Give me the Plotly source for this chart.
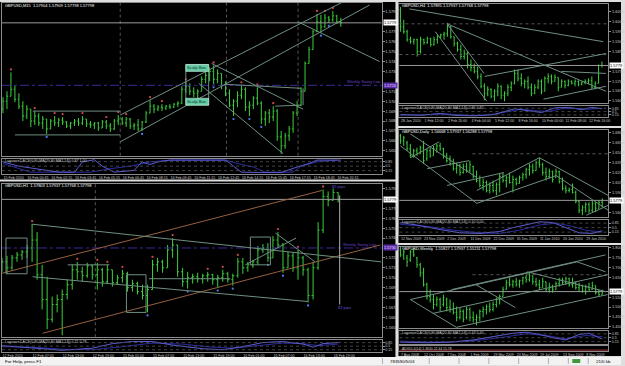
import plotly.graph_objects as go

W, H = 625, 366
FONT = "Liberation Sans"
GREEN = "#3ccf3c"
TL = "#6f8f80"
LBL = "#c8c8c8"
PURPLE = "#6a3fc0"

# ===================== DATA =====================
# Panel 1  GBPUSD,M15   values = pips above 1.5600
p1_open = [92,100,105,112,102,95,85,92,80,85, 78,82,72,80,78,81,79,75,78,80,
           78,82,77,76,78,73,79,75,72,80, 82,78,82,75,76,72,79,88,95,92,
           94,93,95,94,97,98,112,115,110,108, 110,122,126,130,122,128,116,108,96,100,
           106,112,94,96,103,98,82,88,84,90, 64,55,65,72,88,96,110,138,152,170,
           180,175,184,182,186,180]
p1_high = [104,110,129,116,108,100,96,92,90,88, 85,82,82,85,83,84,80,79,82,83,
           85,82,80,79,79,81,81,78,82,86, 84,84,83,78,82,80,90,101,97,96,
           97,96,97,98,100,115,119,118,114,112, 125,130,134,136,132,128,120,112,102,110,
           116,114,100,105,114,100,90,92,95,92, 70,68,75,90,100,114,140,155,172,188,
           187,188,186,191,187,184]
p1_low = [88,92,105,99,92,80,82,74,76,75, 72,67,72,75,74,76,73,72,75,75,
          76,74,73,72,70,73,72,69,71,76, 76,74,72,71,70,70,78,88,88,90,
          90,91,92,93,94,97,108,106,104,103, 110,118,120,117,118,112,105,94,85,94,
          102,90,85,92,96,77,75,78,80,60, 47,52,60,68,85,95,110,138,152,170,
          169,174,179,180,178,175]
p1_close = [100,105,112,102,95,85,92,80,85,78, 82,72,80,78,81,79,75,78,80,78,
            82,77,76,78,73,79,75,72,80,82, 78,82,75,76,72,79,88,95,92,94,
            93,95,94,97,98,112,115,110,108,110, 122,126,130,122,128,116,108,96,100,106,
            112,94,96,103,98,82,88,84,90,64, 55,65,72,88,96,110,138,152,170,180,
            175,184,182,186,180,179]
p1_frac_up = [2,8,13,15,20,26,29,31,37,40,46,53,60,64,68,79,81,83]
p1_frac_dn = [11,35,49,53,58,62,65,70,80,82]
p1_lag_ax = [0,4,14,18,20,23,25,28,33,35,37,39,42,56,58,60,65,70,74,77,79,85]
p1_lag_a = [0.83,0.5,0.03,0.03,0.83,1.0,0.5,0.03,0.17,0.83,0.63,0.83,0.97,0.97,0.5,0.03,0.0,0.0,0.43,0.7,0.97,0.97]
p1_lag_bx = [0,7,22,27,32,34,37,42,56,59,63,66,73,75,79,84]
p1_lag_b = [0.7,0.03,0.03,0.3,0.5,0.63,0.83,0.97,0.97,0.7,0.43,0.03,0.03,0.5,0.83,0.97]
p1_tick_idx = [0,6,12,18,24,30,36,42,48,54,60,66,72,78,84]
p1_tick_txt = ["15 Feb 2010","16 Feb 00:45","16 Feb 02:15","16 Feb 03:45","16 Feb 05:15",
               "16 Feb 06:45","16 Feb 08:15","16 Feb 09:45","16 Feb 11:15","16 Feb 12:45",
               "16 Feb 14:15","16 Feb 15:45","16 Feb 17:15","16 Feb 18:45","16 Feb 20:15"]
p1_trend = [(7.5,90,29.5,90),(3,66,29.5,66),(29.5,86,85.5,200),(29.5,59,92.25,197),
            (52.5,138,75.5,92),(49.25,118,70.5,47),(74.25,180,94.75,140),(56,117,75,113),
            (68.5,95,75,96),(75.5,113,75.5,96)]
p1_day_sep = [29.5,56.25,74.25]
p1_bid = 179
p1_wsl = 116

# Panel 2  GBPUSD,H1   values = pips above 1.5600
p2_open = [110,116,110,120,123,126,130,138,103,78, 58,73,78,83,93,108,106,102,112,103,
           108,96,108,95,100,104,90,94,86,82, 88,113,116,110,128,133,106,96,100,101,
           99,102,103,98,100,104,98,102,116,110, 113,116,128,130,120,138,133,110,122,110,
           120,108,82,110,148,182,178,186]
p2_high = [120,122,123,126,128,133,154,146,113,101, 81,83,88,98,113,116,111,115,113,115,
           110,113,108,103,108,106,98,96,93,93, 118,120,118,133,140,133,110,106,104,105,
           104,106,104,103,108,106,104,120,120,116, 118,132,134,135,142,146,135,126,126,128,
           122,110,116,156,189,187,190,186]
p2_low = [106,104,108,116,118,120,116,98,68,48, 55,65,42,78,88,98,96,100,98,88,
          91,94,91,93,95,86,86,83,78,65, 88,106,105,110,120,101,91,89,94,95,
          94,96,93,90,96,95,92,100,104,106, 110,113,125,116,120,130,105,110,106,98,
          102,75,78,108,145,172,178,176]
p2_close = [116,110,120,123,126,130,138,103,78,58, 73,78,83,93,108,106,102,112,103,108,
            96,108,95,100,104,90,94,86,82,88, 113,116,110,128,133,106,96,100,101,99,
            102,103,98,100,104,98,102,116,110,113, 116,128,130,120,138,133,110,122,110,120,
            108,82,110,148,182,178,186,179]
p2_frac_up = [6,15,19,21,24,30,34,41,44,47,55,59,64]
p2_frac_dn = [12,29,37,43,46,53,56,61]
p2_lag_ax = [0,6,12,18,22,26,30,34,40,44,48,52,56,60,62,64,67]
p2_lag_a = [0.55,0.35,0.1,0.3,0.75,0.95,0.95,0.6,0.25,0.15,0.45,0.85,0.95,0.7,0.4,0.75,0.85]
p2_lag_bx = [0,6,12,18,24,30,36,42,46,50,56,60,63,67]
p2_lag_b = [0.45,0.4,0.2,0.15,0.45,0.8,0.7,0.4,0.3,0.5,0.8,0.75,0.55,0.7]
p2_tick_idx = [0,6,12,18,24,30,36,42,48,54,60,66]
p2_tick_txt = ["12 Feb 2010","12 Feb 07:00","12 Feb 13:00","12 Feb 19:00","15 Feb 01:00","15 Feb 07:00",
               "15 Feb 13:00","15 Feb 19:00","16 Feb 01:00","16 Feb 07:00","16 Feb 13:00","16 Feb 19:00"]
p2_trend_orange = [(-0.4,104,63.8,188),(8.1,44,75.4,133)]
p2_trend = [(5.9,154,75.6,116),(6.1,101,61,76),(54.5,145,62.4,116),(48.5,113,58.6,140),
            (13.1,113,21.4,113),(29.3,99,45.5,99)]
p2_boxes = [(0.8,104,5,140),(24.8,65,28.7,103),(49.5,113,53.5,141)]
p2_measure = (67.3,73,183)
p2_day_sep = [18.6]
p2_bid = 179
p2_wsl = 130

# Panel 3  GBPUSD,H4   values = pips above 1.5500
p3_open = [559,474,449,409,399,409,349,409,394,414, 384,409,424,434,439,474,424,389,359,324,
           339,284,269,249,224,174,139,159,124,149, 174,129,139,169,189,239,214,189,199,169,
           139,169,199,149,214,224,199,219,169,199, 179,199,189,199,184,194,199,204,169,189,279]
p3_high = [574,509,459,424,414,414,424,414,424,419, 424,434,439,449,494,479,424,399,384,359,
           349,309,289,274,239,189,174,164,159,189, 179,149,184,199,259,259,239,209,224,189,
           184,209,209,224,239,234,234,219,209,204, 209,204,209,204,199,209,214,224,199,284,299]
p3_low = [449,439,399,389,384,324,339,384,389,374, 379,389,414,409,424,414,374,349,309,309,
          264,249,239,209,164,104,124,114,99,124, 109,99,124,149,184,199,174,164,159,124,
          134,159,134,149,189,184,199,149,169,164, 174,184,174,174,179,184,184,159,159,189,269]
p3_close = [474,449,409,399,409,349,409,394,414,384, 409,424,434,439,474,424,389,359,324,339,
            284,269,249,224,174,139,159,124,149,174, 129,139,169,189,239,214,189,199,169,139,
            169,199,149,214,224,199,219,169,199,179, 199,189,199,184,194,199,204,169,189,279,279]
p3_lag_ax = [0,6,12,16,22,28,34,38,42,46,50,54,57,60]
p3_lag_a = [0.2,0.1,0.3,0.1,0.05,0.2,0.8,0.6,0.4,0.9,0.95,0.7,0.95,0.8]
p3_lag_bx = [0,8,14,20,26,32,36,40,44,48,52,56,60]
p3_lag_b = [0.1,0.2,0.25,0.1,0.1,0.5,0.75,0.6,0.5,0.8,0.85,0.75,0.85]
p3_tick_idx = [0,7,14,21,28,35,42,49,56]
p3_tick_txt = ["28 Jan 2010","1 Feb 12:00","2 Feb 20:00","4 Feb 04:00","5 Feb 12:00",
               "8 Feb 16:00","10 Feb 00:00","11 Feb 08:00","12 Feb 16:00"]
p3_trend = [(2.7,564,60.4,399),(13.9,489,61.2,149),(10.4,449,25.7,99),(13.9,489,24.9,239),
            (25.1,224,61.2,339),(42.6,109,61.2,174),(47.9,249,61.2,239)]
p3_dotted = [489,334]
p3_bid = 279

# Panel 4  GBPUSD,Daily   values = pips above 1.5000
p4_open = [1754,1679,1649,1559,1454,1529,1484,1574,1409,1529, 1454,1559,1604,1559,1454,1409,1334,1259,1304,1199,
           1289,1229,1289,1139,1079,1004,1049,929,1004,929, 1019,1139,1079,1124,1049,1094,1034,1124,1169,1244,
           1289,1229,1349,1319,1199,1139,1214,1124,1214,1064, 959,929,944,899,764,629,674,719,629,734,659,749]
p4_high = [1784,1754,1679,1634,1559,1574,1604,1679,1559,1574, 1604,1634,1649,1574,1499,1454,1409,1349,1334,1334,
           1349,1379,1304,1229,1154,1109,1079,1049,1079,1049, 1184,1199,1154,1199,1154,1124,1154,1199,1274,1334,
           1334,1379,1424,1349,1274,1259,1229,1259,1229,1124, 1004,974,1034,929,779,704,749,749,779,749,779,809]
p4_low = [1634,1604,1529,1424,1424,1454,1484,1334,1379,1424, 1454,1499,1529,1409,1349,1304,1229,1184,1154,1184,
          1199,1199,1109,1049,974,929,899,884,899,854, 899,1049,974,1034,899,1004,1034,1079,1109,1154,
          1184,1229,1274,1154,1079,1109,1049,1124,1034,929, 884,899,884,734,584,554,599,584,599,599,659,674]
p4_close = [1679,1724,1559,1454,1529,1484,1574,1379,1529,1454, 1559,1604,1559,1454,1379,1334,1259,1304,1199,1289,
            1229,1319,1139,1079,1004,1049,929,1004,929,1019, 1139,1079,1124,1049,1094,1034,1124,1169,1244,1289,
            1229,1349,1319,1199,1139,1214,1094,1214,1064,959, 929,944,899,764,629,674,719,629,734,659,749,779]
p4_lag_ax = [0,5,12,18,24,30,34,38,42,46,50,54,58,61]
p4_lag_a = [0.9,0.7,0.35,0.1,0.05,0.2,0.5,0.75,0.95,0.9,0.5,0.1,0.05,0.25]
p4_lag_bx = [0,8,16,24,30,36,42,47,52,56,61]
p4_lag_b = [0.75,0.6,0.3,0.1,0.05,0.3,0.7,0.85,0.6,0.3,0.15]
p4_tick_idx = [0,7,14,21,28,35,42,49,56]
p4_tick_txt = ["12 Nov 2009","23 Nov 2009","2 Dec 2009","11 Dec 2009","22 Dec 2009",
               "31 Dec 2009","11 Jan 2010","20 Jan 2010","29 Jan 2010"]
p4_trend = [(3,1784,23.1,1124),(0,1604,23.1,734),(3,1424,11.7,1664),(8.1,1259,20.7,1379),
            (14.1,1004,31.2,1199),(23.1,929,42,1424),(23.1,734,47.1,1154),(42,1424,62.8,854),
            (47.1,1154,62.8,629),(56.2,554,62.8,704)]
p4_dotted = [1484]
p4_bid = 779

# Panel 5  GBPUSD,Weekly   values = pips above 1.0000
p5_open = [7879,7629,7479,7379,7779,7479,7129,6729,6129,5529, 5379,5129,5379,5129,5379,4979,4879,4729,4479,4779,
           4479,4879,4479,4379,4479,4779,4879,5029,4879,5129, 5379,5529,5879,6229,6129,6279,6129,6329,6479,6379,
           6579,6279,6129,5979,6279,5879,6029,5879,6179,6379, 6229,6429,6129,6229,5979,6079,5829,6029,5879,6079,5729,5629]
p5_high = [8029,7879,7629,7879,7979,7529,7229,6979,6229,5879, 5629,5529,5479,5629,5479,5379,5229,5029,4979,4879,
           5029,4979,4779,4629,4879,5029,5129,5229,5279,5479, 5629,6029,6379,6479,6379,6479,6379,6529,6629,6729,
           6579,6479,6379,6479,6279,6229,6129,6279,6479,6479, 6529,6479,6479,6279,6229,6129,6129,6229,6279,6079,5879,5879]
p5_low = [7529,7379,7029,7279,7529,6979,6529,6029,5379,5229, 4879,5029,4779,5029,4779,4729,4629,4279,4379,4229,
          4379,4279,4229,4079,4279,4479,4629,4729,4779,4979, 5129,5529,5879,6029,5979,6029,5979,6129,6229,6279,
          6129,6029,5879,5979,5779,5729,5729,5879,6029,6129, 6129,6029,5979,5879,5779,5729,5629,5779,5879,5629,5529,5629]
p5_close = [7629,7779,7279,7779,7629,7129,6729,6129,5529,5379, 5129,5379,4979,5479,4979,4879,4729,4479,4779,4379,
            4879,4479,4379,4479,4779,4879,5029,4879,5129,5379, 5529,5879,6229,6129,6279,6129,6329,6479,6379,6579,
            6279,6129,5979,6279,5879,6029,5879,6179,6379,6229, 6429,6129,6229,5979,6079,5829,6029,5879,6079,5729,5629,5779]
p5_lag_ax = [0,8,15,22,28,34,38,42,46,50,54,57,60,61]
p5_lag_a = [0.1,0.05,0.1,0.3,0.6,0.9,1.0,0.8,0.5,0.3,0.8,0.9,0.5,0.4]
p5_lag_bx = [0,10,20,30,38,44,50,56,61]
p5_lag_b = [0.2,0.1,0.15,0.5,0.85,0.7,0.4,0.7,0.6]
p5_tick_idx = [0,7,14,21,28,35,42,49,56]
p5_tick_txt = ["7 Aug 2008","12 Oct 2008","7 Dec 2008","1 Feb 2009","29 Mar 2009",
               "24 May 2009","19 Jul 2009","13 Sep 2009","8 Nov 2009"]
p5_trend = [(3,5379,53.4,7279),(16.9,3979,62.6,5629),(9.8,4679,62.6,6629),(3,5379,16.9,3979),
            (22.8,6129,34.7,4979),(38.3,6779,62,5779),(53.4,7279,62,6779),(15.4,5879,62,7629)]
p5_dotted = [6629]
p5_bid = 5779

titles = ["GBPUSD,M15  1.57904 1.57909 1.57798 1.57798",
          "GBPUSD,H1  1.57803 1.57937 1.57768 1.57798",
          "GBPUSD,H4  1.57895 1.57937 1.57768 1.57798",
          "GBPUSD,Daily  1.56668 1.57937 1.56288 1.57798",
          "GBPUSD,Weekly  1.55827 1.57937 1.55211 1.57798"]
ind_titles = ["Laguerre2-ACS(0.80,MA(20,80,MA2,14)) 0.87 1.00",
              "Laguerre2-ACS(0.80,MA(20,80,MA2,14)) 0.71 0.78",
              "Laguerre2-ACS(0.80,MA(20,80,MA2,14)) 0.85 0.82",
              "Laguerre2-ACS(0.80,MA(20,80,MA2,14)) 0.10 0.00",
              "Laguerre2-ACS(0.80,MA(20,80,MA2,14)) 0.43 0.40"]

# ===================== FIGURE =====================
fig = go.Figure()
shapes, anns, lay = [], [], {}


def sfx(n):
    return "" if n == 1 else str(n)


def px(x):
    return x / W


def py(y):
    return 1 - y / H


def prices(vals, base):
    return [round(base + v / 10000.0, 5) for v in vals]


AX = dict(showgrid=False, zeroline=False, showline=True, mirror=True,
          linecolor="#8c8c8c", linewidth=1, fixedrange=True)


def xrange_for(L, R, x0, sp):
    a = -(x0 - L) / sp
    return [a, a + (R - L) / sp]


def price_ticks(lo, hi, t0, dt, excl):
    # price-axis labels; those hidden under a highlighted level box are skipped
    vals, v = [], t0
    while v <= hi + 1e-9:
        if v >= lo and all(abs(v - e) > 0.55 * dt for e in excl):
            vals.append(round(v, 5))
        v += dt
    return dict(tickmode="array", tickvals=vals, ticktext=["%.4f" % t for t in vals])


def set_axes(n, box, xr, yr, ytick=None, xticks=None):
    s = sfx(n)
    L, R, T, B = box
    xa = dict(AX, domain=[px(L), px(R)], range=xr, anchor="y" + s,
              rangeslider=dict(visible=False), showticklabels=False, ticks="")
    if xticks is not None:
        xa.update(showticklabels=True, tickmode="array", tickvals=xticks[0], ticktext=xticks[1],
                  tickfont=dict(size=3.6, color=LBL, family=FONT), tickangle=0,
                  ticklabelposition="outside right")
    ya = dict(AX, domain=[py(B), py(T)], range=yr, anchor="x" + s, side="right",
              ticks="outside", ticklen=2, tickcolor="#8c8c8c",
              tickfont=dict(size=4, color=LBL, family=FONT))
    if ytick is None:
        ya.update(showticklabels=False, ticks="")
    else:
        ya.update(ytick)
    lay["xaxis" + s] = xa
    lay["yaxis" + s] = ya


def add_bars(n, o, h, l, c, base):
    s = sfx(n)
    fig.add_trace(go.Ohlc(x=list(range(len(o))), open=prices(o, base), high=prices(h, base),
                          low=prices(l, base), close=prices(c, base), xaxis="x" + s, yaxis="y" + s,
                          increasing=dict(line=dict(color=GREEN, width=1)),
                          decreasing=dict(line=dict(color=GREEN, width=1)),
                          tickwidth=0.3, hoverinfo="skip", showlegend=False))


def add_lag(n, ax_, a, bx_, b):
    s = sfx(n)
    fig.add_trace(go.Scatter(x=bx_, y=b, mode="lines", line=dict(color="#2b2ba0", width=1),
                             xaxis="x" + s, yaxis="y" + s, hoverinfo="skip", showlegend=False))
    fig.add_trace(go.Scatter(x=ax_, y=a, mode="lines", line=dict(color="#5c5cd8", width=1),
                             xaxis="x" + s, yaxis="y" + s, hoverinfo="skip", showlegend=False))
    for lv in (0.15, 0.5, 0.85):
        shapes.append(dict(type="line", xref="x" + s + " domain", yref="y" + s, x0=0, x1=1,
                           y0=lv, y1=lv, line=dict(color="#444444", width=1, dash="dot")))


def add_frac(n, idx, h, base, off, color, sign):
    s = sfx(n)
    fig.add_trace(go.Scatter(x=idx, y=[base + (h[i] + sign * off) / 10000.0 for i in idx],
                             mode="markers", marker=dict(size=2.3, color=color),
                             xaxis="x" + s, yaxis="y" + s, hoverinfo="skip", showlegend=False))


def seg(n, base, t, color=TL, width=1, dash="solid"):
    s = sfx(n)
    shapes.append(dict(type="line", xref="x" + s, yref="y" + s, x0=t[0], y0=base + t[1] / 1e4,
                       x1=t[2], y1=base + t[3] / 1e4, line=dict(color=color, width=width, dash=dash)))


def hline(n, base, v, color, dash="solid", x0=0, width=1):
    s = sfx(n)
    shapes.append(dict(type="line", xref="x" + s + " domain", yref="y" + s, x0=x0, x1=1,
                       y0=base + v / 1e4, y1=base + v / 1e4, line=dict(color=color, width=width, dash=dash)))


def vline(n, x, color="#555555", dash="dot"):
    s = sfx(n)
    shapes.append(dict(type="line", xref="x" + s, yref="y" + s + " domain", x0=x, x1=x, y0=0, y1=1,
                       line=dict(color=color, width=1, dash=dash)))


def text(x, y, t, size=4, color="#ffffff", xanchor="left", bg=None, yanchor="middle"):
    d = dict(x=px(x), y=py(y), xref="paper", yref="paper", text=t, showarrow=False,
             xanchor=xanchor, yanchor=yanchor, font=dict(size=size, color=color, family=FONT))
    if bg:
        d.update(bgcolor=bg, borderpad=0)
    anns.append(d)


def axis_label(n, xpix, price, t, bg, fg):
    anns.append(dict(x=px(xpix), xref="paper", y=price, yref="y" + sfx(n), text=t, showarrow=False,
                     xanchor="left", yanchor="middle", bgcolor=bg, borderpad=0,
                     font=dict(size=4, color=fg, family=FONT)))


def rect_px(x0, y0, x1, y1, fill, layer="below", line=None):
    shapes.append(dict(type="rect", xref="paper", yref="paper", x0=px(x0), x1=px(x1),
                       y0=py(y1), y1=py(y0), fillcolor=fill, layer=layer,
                       line=dict(width=0) if line is None else line))


# window frames
for fr in [(0, 0, 398, 179), (0, 181, 398, 358), (401, 0, 625, 125), (401, 127, 625, 243), (401, 245, 625, 357)]:
    rect_px(*fr, fill="#000000")
rect_px(0, 358, 625, 366, "#f2f2f2")

IND_Y = dict(tickmode="array", tickvals=[0.15, 0.5, 0.85], ticktext=["0.15", "0.5", "0.85"],
             tickfont=dict(size=3.6, color=LBL, family=FONT))

# ---------- Panel 1 (M15) ----------
b1 = 1.56
set_axes(1, (2, 384, 1, 155), xrange_for(2, 384, 3, 4), [1.5645, 1.5799],
         price_ticks(1.5645, 1.5799, 1.5600, 0.001, [b1 + p1_bid / 1e4, b1 + p1_wsl / 1e4]))
set_axes(2, (2, 384, 158, 173), xrange_for(2, 384, 3, 4), [-0.08, 1.08], IND_Y,
         (p1_tick_idx, p1_tick_txt))
for x in p1_day_sep:
    vline(1, x)
hline(1, b1, p1_bid, "#9a9a9a")
hline(1, b1, p1_wsl, "#3b2a9a", dash="dashdot")
for t in p1_trend:
    seg(1, b1, t)
add_bars(1, p1_open, p1_high, p1_low, p1_close, b1)
add_frac(1, p1_frac_up, p1_high, b1, 3, "#c84848", 1)
add_frac(1, p1_frac_dn, p1_low, b1, 3, "#4a78e8", -1)
add_lag(2, p1_lag_ax, p1_lag_a, p1_lag_bx, p1_lag_b)
# scalp box markers
shapes.append(dict(type="rect", xref="x", yref="y", x0=46, x1=51.75, y0=b1 + 96 / 1e4, y1=b1 + 137 / 1e4,
                   line=dict(color=TL, width=1)))
for (v0, v1) in [(130, 137), (96, 103)]:
    shapes.append(dict(type="rect", xref="x", yref="y", x0=46, x1=51.75, y0=b1 + v0 / 1e4, y1=b1 + v1 / 1e4,
                       fillcolor="#66caa6", line=dict(color="#dfffee", width=0.5)))
    anns.append(dict(x=48.9, y=b1 + (v0 + v1) / 2e4, xref="x", yref="y", text="Scalp Box", showarrow=False,
                     font=dict(size=4.2, color="#0a3a2a", family=FONT)))
text(347, 80, "Weekly Swing Low", 4, PURPLE)
text(3, 4, titles[0], 4)
text(3, 160, ind_titles[0], 3.6, LBL)
axis_label(1, 385, b1 + p1_bid / 1e4, "1.5779", "#ffffff", "#000000")
axis_label(1, 385, b1 + p1_wsl / 1e4, "1.5716", "#5a2ca8", "#e0d8ff")

# ---------- Panel 2 (H1) ----------
b2 = 1.56
set_axes(3, (2, 384, 183, 338), xrange_for(2, 384, 2, 5.05), [1.5640, 1.5795],
         price_ticks(1.5640, 1.5795, 1.5600, 0.001, [b2 + p2_bid / 1e4, b2 + p2_wsl / 1e4]))
set_axes(4, (2, 384, 341, 353), xrange_for(2, 384, 2, 5.05), [-0.08, 1.08], IND_Y,
         (p2_tick_idx, p2_tick_txt))
for x in p2_day_sep:
    vline(3, x)
hline(3, b2, p2_bid, "#9a9a9a")
hline(3, b2, p2_wsl, "#3b2a9a", dash="dashdot")
for t in p2_trend_orange:
    seg(3, b2, t, color="#95603f")
for t in p2_trend:
    seg(3, b2, t)
for bx in p2_boxes:
    shapes.append(dict(type="rect", xref="x3", yref="y3", x0=bx[0], x1=bx[2], y0=b2 + bx[1] / 1e4,
                       y1=b2 + bx[3] / 1e4, line=dict(color=TL, width=1)))
seg(3, b2, (p2_measure[0], p2_measure[1], p2_measure[0], p2_measure[2]), color="#b0b0b0")
add_bars(3, p2_open, p2_high, p2_low, p2_close, b2)
add_frac(3, p2_frac_up, p2_high, b2, 3, "#c84848", 1)
add_frac(3, p2_frac_dn, p2_low, b2, 3, "#4a78e8", -1)
add_lag(4, p2_lag_ax, p2_lag_a, p2_lag_bx, p2_lag_b)
text(332, 186, "82 pips", 4, "#6a50d8")
text(338, 308, "82 pips", 4, "#6a50d8")
text(343, 245, "Weekly Swing Low", 4, PURPLE)
text(3, 185, titles[1], 4)
text(3, 343, ind_titles[1], 3.6, LBL)
axis_label(3, 385, b2 + p2_bid / 1e4, "1.5779", "#ffffff", "#000000")
axis_label(3, 385, b2 + p2_wsl / 1e4, "1.5730", "#5a2ca8", "#e0d8ff")

# ---------- Panel 3 (H4) ----------
b3 = 1.55
set_axes(5, (402, 612, 2, 102), xrange_for(402, 612, 403, 3.38), [1.5589, 1.6089],
         price_ticks(1.5589, 1.6089, 1.5500, 0.005, [b3 + p3_bid / 1e4]))
set_axes(6, (402, 612, 105, 116), xrange_for(402, 612, 403, 3.38), [-0.08, 1.08], IND_Y,
         (p3_tick_idx, p3_tick_txt))
for v in p3_dotted:
    hline(5, b3, v, "#555555", dash="dot")
hline(5, b3, p3_bid, "#9a9a9a")
for t in p3_trend:
    seg(5, b3, t)
add_bars(5, p3_open, p3_high, p3_low, p3_close, b3)
add_lag(6, p3_lag_ax, p3_lag_a, p3_lag_bx, p3_lag_b)
text(403, 4, titles[2], 4)
text(403, 107, ind_titles[2], 3.6, LBL)
axis_label(5, 613, b3 + p3_bid / 1e4, "1.5779", "#ffffff", "#000000")

# ---------- Panel 4 (Daily) ----------
b4 = 1.50
set_axes(7, (402, 612, 129, 217), xrange_for(402, 612, 403, 3.33), [1.5524, 1.6844],
         price_ticks(1.5524, 1.6844, 1.5000, 0.015, [b4 + p4_bid / 1e4]))
set_axes(8, (402, 612, 220, 235), xrange_for(402, 612, 403, 3.33), [-0.08, 1.08], IND_Y,
         (p4_tick_idx, p4_tick_txt))
for v in p4_dotted:
    hline(7, b4, v, "#555555", dash="dot", x0=0.35)
hline(7, b4, p4_bid, "#9a9a9a")
for t in p4_trend:
    seg(7, b4, t)
add_bars(7, p4_open, p4_high, p4_low, p4_close, b4)
add_lag(8, p4_lag_ax, p4_lag_a, p4_lag_bx, p4_lag_b)
text(403, 131, titles[3], 4)
text(403, 222, ind_titles[3], 3.6, LBL)
axis_label(7, 613, b4 + p4_bid / 1e4, "1.5779", "#ffffff", "#000000")

# ---------- Panel 5 (Weekly) ----------
b5 = 1.00
set_axes(9, (402, 612, 247, 329), xrange_for(402, 612, 403, 3.33), [1.3929, 1.8029],
         price_ticks(1.3929, 1.8029, 1.0000, 0.05, [b5 + p5_bid / 1e4]))
set_axes(10, (402, 612, 332, 345), xrange_for(402, 612, 403, 3.33), [-0.08, 1.08], IND_Y)
set_axes(11, (402, 612, 347, 352), xrange_for(402, 612, 403, 3.33), [0, 1], None,
         (p5_tick_idx, p5_tick_txt))
for v in p5_dotted:
    hline(9, b5, v, "#555555", dash="dot", x0=0.35)
hline(9, b5, p5_bid, "#9a9a9a")
for t in p5_trend:
    seg(9, b5, t)
add_bars(9, p5_open, p5_high, p5_low, p5_close, b5)
add_lag(10, p5_lag_ax, p5_lag_a, p5_lag_bx, p5_lag_b)
shapes.append(dict(type="line", xref="x11 domain", yref="y11", x0=0, x1=1, y0=0.2, y1=0.2,
                   line=dict(color="#a03030", width=1)))
text(403, 249, titles[4], 4)
text(403, 334, ind_titles[4], 3.6, LBL)
text(403, 349.5, "ADXDI-4(14) 1.3920 22.34 15.78", 3.4, LBL)
axis_label(9, 613, b5 + p5_bid / 1e4, "1.5779", "#ffffff", "#000000")

# ---------- status bar ----------
for x in [385, 432, 462, 492, 522, 552, 572, 592]:
    shapes.append(dict(type="line", xref="paper", yref="paper", x0=px(x), x1=px(x), y0=py(365), y1=py(359),
                       line=dict(color="#b0b0b0", width=1)))
rect_px(576, 360, 584, 364, "#3a9a3a", layer="above")
text(3, 362.3, "For Help, press F1", 4.4, "#000000")
text(390, 362.3, "783590/5/03", 4.4, "#000000")
text(598, 362.3, "21/0 kb", 4.4, "#000000")

fig.update_layout(width=W, height=H, margin=dict(l=0, r=0, t=0, b=0),
                  paper_bgcolor="#dedede", plot_bgcolor="#000000", showlegend=False,
                  shapes=shapes, annotations=anns, dragmode=False, hovermode=False, **lay)
fig.write_html("out.html", config={"displayModeBar": False, "staticPlot": True})
